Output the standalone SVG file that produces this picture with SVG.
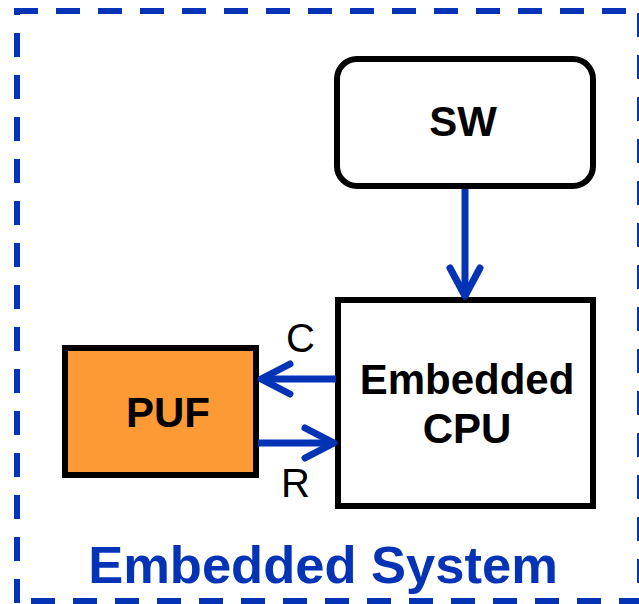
<svg xmlns="http://www.w3.org/2000/svg" width="639" height="604" viewBox="0 0 639 604">
<defs>
<style>
.border{stroke:#0533b5;stroke-width:6;fill:none;stroke-dasharray:24 18}
.box{stroke:#000;stroke-width:6;fill:#fff}
.lbl{font-family:"Liberation Sans",Arial,sans-serif;font-weight:bold;font-size:42px;fill:#000;text-anchor:middle}
.sig{font-family:"Liberation Sans",Arial,sans-serif;font-size:40px;fill:#000;text-anchor:middle}
.shaft{stroke:#0533b5;stroke-width:7;fill:none}
.head{stroke:#0533b5;stroke-width:7;fill:none;stroke-linecap:round;stroke-linejoin:round}
.title{font-family:"Liberation Sans",Arial,sans-serif;font-weight:bold;font-size:52.5px;fill:#0533b5;text-anchor:middle}
</style>
</defs>
<rect width="639" height="604" fill="#fff"/>
<g id="system">
<line class="border" x1="14" y1="11" x2="639" y2="11"/>
<line class="border" x1="17" y1="11" x2="17" y2="604" stroke-dashoffset="20"/>
<line class="border" x1="31" y1="601" x2="639" y2="601"/>
<line class="border" x1="640" y1="13" x2="640" y2="604"/>
<text class="title" x="323" y="583">Embedded System</text>
</g>
<g id="sw">
<rect class="box" x="337" y="59" width="256" height="127" rx="20"/>
<text class="lbl" x="463" y="136">SW</text>
</g>
<g id="cpu">
<rect class="box" x="338" y="300" width="255" height="206"/>
<text class="lbl" x="467" y="394">Embedded</text>
<text class="lbl" x="467" y="443">CPU</text>
</g>
<g id="puf">
<rect class="box" x="65" y="348" width="191" height="127" style="fill:#fc9a35"/>
<text class="lbl" x="168" y="427">PUF</text>
</g>
<g id="connectors">
<path class="shaft" d="M465,189 V294"/>
<path class="head" d="M450,268 L465,296 L480,268"/>
<path class="shaft" d="M336,379 H263"/>
<path class="head" d="M290,364 L261,379 L290,394"/>
<path class="shaft" d="M258,443 H332"/>
<path class="head" d="M305,428 L334,443 L305,458"/>
<text class="sig" x="300.5" y="352">C</text>
<text class="sig" x="295.5" y="497">R</text>
</g>
</svg>
